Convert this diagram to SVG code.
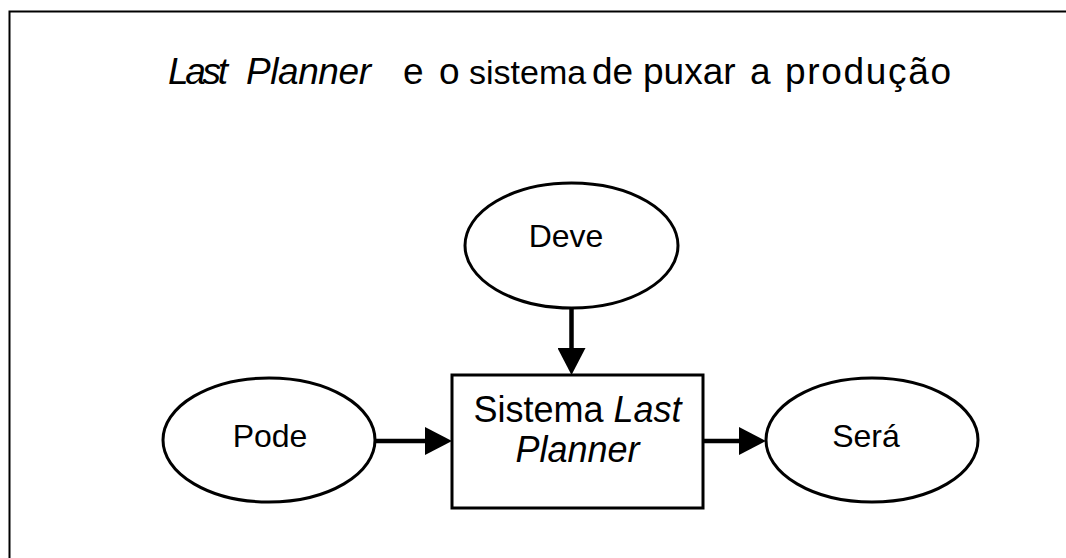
<svg xmlns="http://www.w3.org/2000/svg" width="1066" height="558" viewBox="0 0 1066 558">
  <style>
    .frame { fill: #ffffff; stroke: #000000; stroke-width: 2; }
    .node { fill: #ffffff; stroke: #000000; stroke-width: 3; }
    .edge { fill: none; stroke: #000000; stroke-width: 4.5; }
    .title { font-family: "Liberation Sans", Arial, sans-serif; font-size: 37px; fill: #000000; }
    .label { font-family: "Liberation Sans", Arial, sans-serif; font-size: 32px; fill: #000000; text-anchor: middle; }
    .boxlabel { font-family: "Liberation Sans", Arial, sans-serif; font-size: 36px; fill: #000000; text-anchor: middle; }
    .it { font-style: italic; }
  </style>
  <defs>
    <marker id="arrow" markerUnits="userSpaceOnUse" markerWidth="28" markerHeight="28" refX="0" refY="14" orient="auto" viewBox="0 0 28 28">
      <path d="M0,0 L27,14 L0,28 Z" fill="#000000"/>
    </marker>
  </defs>
  <rect x="0" y="0" width="1066" height="558" fill="#ffffff"/>
  <rect class="frame" x="9.5" y="11.5" width="1100" height="600"/>

  <text id="title" class="title" y="84"><tspan class="it" x="168" textLength="60" lengthAdjust="spacing">Last</tspan><tspan class="it" x="246" textLength="125" lengthAdjust="spacing">Planner</tspan><tspan x="403">e</tspan><tspan x="439">o</tspan><tspan x="469" font-size="34">sistema</tspan><tspan x="592">de</tspan><tspan x="643">puxar</tspan><tspan x="750">a</tspan><tspan x="785" textLength="166" lengthAdjust="spacing">produção</tspan></text>

  <g id="connectors">
    <line class="edge" x1="571.5" y1="308" x2="571.5" y2="348" marker-end="url(#arrow)"/>
    <line class="edge" x1="375" y1="441" x2="425" y2="441" marker-end="url(#arrow)"/>
    <line class="edge" x1="703" y1="441" x2="739" y2="441" marker-end="url(#arrow)"/>
  </g>

  <g id="node-deve">
    <ellipse class="node" cx="571.5" cy="245.5" rx="106.5" ry="62.5"/>
    <text class="label" x="566" y="247">Deve</text>
  </g>

  <g id="node-sistema">
    <rect class="node" x="452" y="375" width="251" height="133" stroke-width="4"/>
    <text class="boxlabel" x="577.5" y="422">Sistema <tspan class="it">Last</tspan></text>
    <text class="boxlabel it" x="577.5" y="462">Planner</text>
  </g>

  <g id="node-pode">
    <ellipse class="node" cx="269" cy="440" rx="106" ry="62"/>
    <text class="label" x="270" y="447">Pode</text>
  </g>

  <g id="node-sera">
    <ellipse class="node" cx="872" cy="440" rx="106" ry="62"/>
    <text class="label" x="866" y="447">Será</text>
  </g>
</svg>
